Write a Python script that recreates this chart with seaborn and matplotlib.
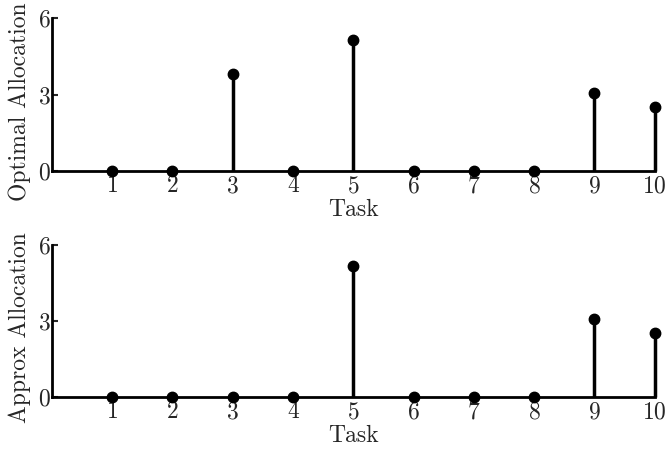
import matplotlib
matplotlib.use("Agg")
import matplotlib.pyplot as plt
import seaborn as sns
import numpy as np

tasks = [1, 2, 3, 4, 5, 6, 7, 8, 9, 10]
optimal_alloc = [0, 0, 3.8, 0, 5.15, 0, 0, 0, 3.06, 2.52]
approx_alloc = [0, 0, 0, 0, 5.18, 0, 0, 0, 3.08, 2.53]
y_ticks = [0, 3, 6]
x_label = "Task"
y_labels = ["Optimal Allocation", "Approx Allocation"]

sns.set_style("ticks")
plt.rcParams['font.family'] = ['cmr10', 'DejaVu Serif']
plt.rcParams['axes.formatter.use_mathtext'] = True
plt.rcParams['mathtext.fontset'] = 'cm'

FS = 17

fig = plt.figure(figsize=(6.66, 4.53), dpi=100)
ax1 = fig.add_axes([0.078, 0.6225, 0.905, 0.3375])
ax2 = fig.add_axes([0.078, 0.1236, 0.905, 0.3354])

for ax, vals, ylab in zip([ax1, ax2], [optimal_alloc, approx_alloc], y_labels):
    markerline, stemlines, baseline = ax.stem(tasks, vals, linefmt='k-', markerfmt='ko', basefmt='k-')
    markerline.set_markersize(7.5)
    markerline.set_clip_on(False)
    stemlines.set_linewidth(2.5)
    stemlines.set_clip_on(False)
    baseline.set_visible(False)
    ax.set_xlim(0, 10)
    ax.set_ylim(0, 6)
    ax.set_yticks(y_ticks)
    ax.set_xticks(tasks)
    ax.tick_params(axis='y', direction='in', length=4, width=1.5, pad=1, labelsize=FS)
    ax.tick_params(axis='x', length=0, pad=3, labelsize=FS)
    sns.despine(ax=ax)
    for s in ['left', 'bottom']:
        ax.spines[s].set_linewidth(2)
        ax.spines[s].set_color('black')
        ax.spines[s].set_zorder(1)
    ax.set_xlabel(x_label, fontsize=FS, labelpad=1)
    ax.set_ylabel(ylab, fontsize=FS)
    ax.yaxis.set_label_coords(-0.034, 0.455)

fig.savefig("out.png", dpi=100)
